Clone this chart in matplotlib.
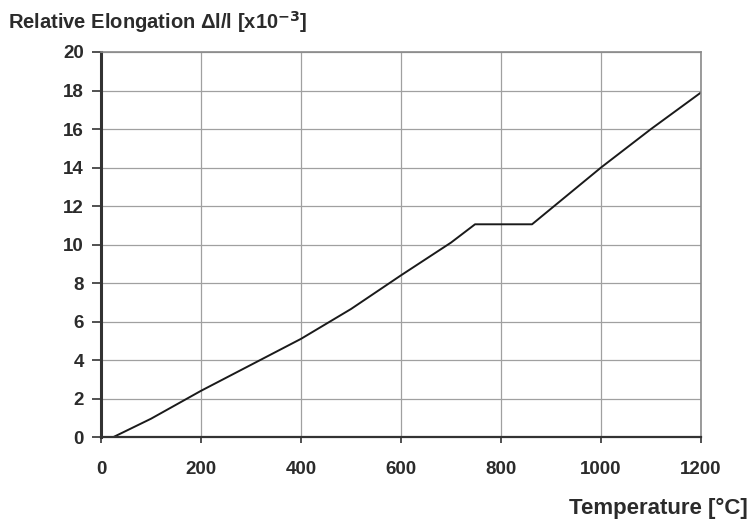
import numpy as np
import matplotlib.pyplot as plt

# temperature [°C] vs relative elongation [x10^-3]
temperature = [25, 100, 200, 300, 400, 500, 600, 700, 748, 862, 1000, 1100, 1200]
elongation = [0.0, 0.95, 2.4, 3.75, 5.1, 6.65, 8.4, 10.1, 11.05, 11.05, 14.0, 16.0, 17.9]

x_ticks = [0, 200, 400, 600, 800, 1000, 1200]
y_ticks = [0, 2, 4, 6, 8, 10, 12, 14, 16, 18, 20]

plt.rcParams['font.family'] = ['Liberation Sans', 'DejaVu Sans']
text_color = '#2b2b2b'

fig = plt.figure(figsize=(7.51, 5.20), dpi=100)
ax = fig.add_axes([0.1345, 0.1596, 0.799, 0.7404])

ax.plot(temperature, elongation, color='#1a1a1a', linewidth=1.4)

ax.set_xlim(0, 1200)
ax.set_ylim(0, 20)
ax.set_xticks(x_ticks)
ax.set_yticks(y_ticks)
ax.grid(True, color='#a0a0a0', linewidth=0.9)
ax.set_axisbelow(True)

ax.spines['left'].set_color('#333333')
ax.spines['left'].set_linewidth(2.2)
ax.spines['bottom'].set_color('#333333')
ax.spines['bottom'].set_linewidth(1.6)
ax.spines['top'].set_color('#8a8a8a')
ax.spines['top'].set_linewidth(1.2)
ax.spines['right'].set_color('#8a8a8a')
ax.spines['right'].set_linewidth(1.2)

ax.tick_params(axis='y', direction='out', length=6.5, width=1.2, color='#333333',
               pad=6, labelsize=13.5, labelcolor=text_color)
ax.tick_params(axis='x', direction='out', length=4, width=1.2, color='#333333',
               pad=13, labelsize=13.5, labelcolor=text_color)
for lab in ax.get_xticklabels() + ax.get_yticklabels():
    lab.set_fontweight('bold')

fig.text(0.011, 0.957, 'Relative Elongation \u0394l/l [x10$^{\\mathbf{-3}}$]', ha='left', va='center',
         fontsize=14.5, fontweight='bold', color=text_color)
fig.text(0.996, 0.023, 'Temperature [\u00b0C]', ha='right', va='center',
         fontsize=16, fontweight='bold', color=text_color)

fig.savefig('out.png', dpi=100)
